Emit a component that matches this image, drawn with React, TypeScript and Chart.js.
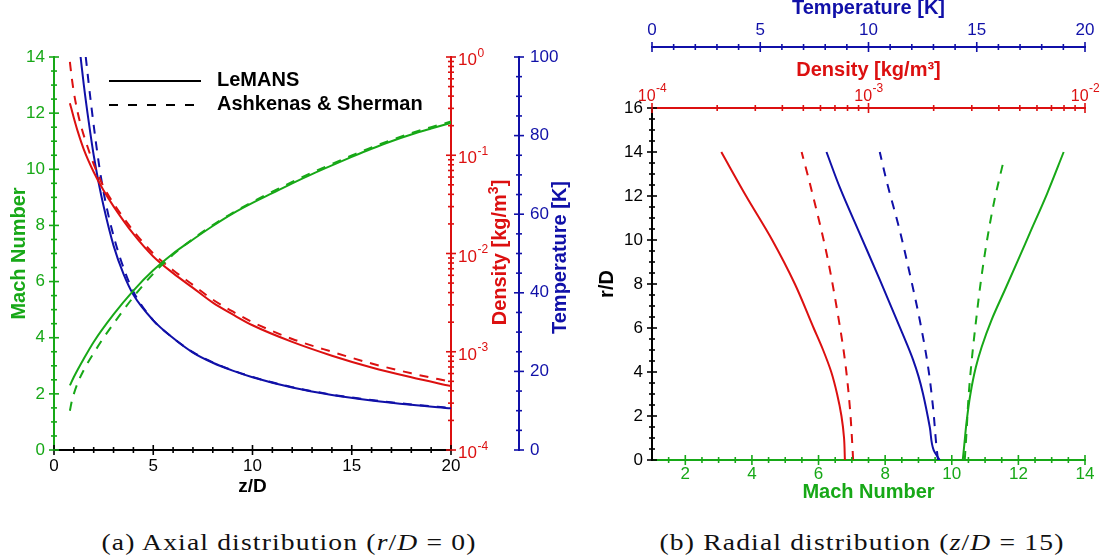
import React, { useEffect, useRef } from 'react';
import { Chart, registerables } from 'chart.js';

Chart.register(...registerables);

const FONT = "'Liberation Sans', Arial, Helvetica, sans-serif";
const GREEN = '#17A817';
const RED = '#DC1010';
const BLUE = '#1010A8';
const DASH = [9, 8];

const LEGEND_LABELS = ['LeMANS', 'Ashkenas & Sherman'];

// ---------- Panel (a): axial distribution, r/D = 0 ----------
const A_Z_TICKS = [0, 5, 10, 15, 20];
const A_MACH_TICKS = [0, 2, 4, 6, 8, 10, 12, 14];
const A_T_TICKS = [0, 20, 40, 60, 80, 100];
const A_RHO_TICKS = [1e-4, 1e-3, 1e-2, 1e-1, 1];
const A_RHO_EXP = ['-4', '-3', '-2', '-1', '0'];

const A_Z_MACH_LEMANS = [0.8, 1, 1.5, 2, 3, 4, 5, 6, 7, 8, 9, 10, 11, 12, 13, 14, 15, 16, 17, 18, 19, 20];
const A_MACH_LEMANS = [2.3, 2.6, 3.25, 3.85, 4.83, 5.68, 6.4, 7.0, 7.5, 7.98, 8.42, 8.8, 9.15, 9.5, 9.83, 10.14, 10.44, 10.73, 11.0, 11.24, 11.45, 11.65];
const A_Z_MACH_AS = [0.8, 0.9, 1, 1.2, 1.5, 2, 2.5, 3, 4, 5, 6, 7, 8, 9, 10, 11, 12, 13, 14, 15, 16, 17, 18, 19, 20];
const A_MACH_AS = [1.4, 1.75, 2.0, 2.4, 2.85, 3.45, 4.0, 4.5, 5.45, 6.28, 6.96, 7.52, 8.01, 8.45, 8.84, 9.2, 9.55, 9.88, 10.19, 10.49, 10.78, 11.04, 11.29, 11.5, 11.7];

const A_Z_RHO_LEMANS = [0.8, 1, 1.2, 1.5, 2, 2.5, 3, 4, 5, 6, 7, 8, 9, 10, 12, 14, 16, 18, 20];
const A_RHO_LEMANS = [0.339, 0.24, 0.174, 0.115, 0.0676, 0.0437, 0.0302, 0.0158, 0.00933, 0.00631, 0.00447, 0.00316, 0.0024, 0.00186, 0.00126, 0.000912, 0.000692, 0.00055, 0.000447];
const A_Z_RHO_AS = [0.8, 0.9, 1, 1.2, 1.4, 1.6, 2, 2.5, 3, 4, 5, 6, 7, 8, 9, 10, 12, 14, 16, 18, 20];
const A_RHO_AS = [0.891, 0.603, 0.437, 0.269, 0.186, 0.138, 0.0813, 0.0479, 0.0324, 0.017, 0.01, 0.00676, 0.00479, 0.00339, 0.00257, 0.002, 0.00135, 0.001, 0.000759, 0.000603, 0.000495];

const A_Z_T_LEMANS = [1.34, 1.5, 1.75, 2, 2.25, 2.5, 3, 3.5, 4, 5, 6, 7, 8, 9, 10, 12, 14, 16, 18, 20];
const A_T_LEMANS = [100, 93, 83.5, 75, 68, 62, 52, 44.8, 39.5, 33, 28.5, 24.8, 22.2, 20.2, 18.5, 15.9, 14.0, 12.6, 11.5, 10.6];
const A_Z_T_AS = [1.6, 1.88, 2.3, 2.6, 3.06, 3.6, 4, 5, 6, 7, 8, 10, 12, 14, 16, 18, 20];
const A_T_AS = [100, 87.5, 71.5, 63, 53.4, 45, 40.3, 33, 28.5, 24.9, 22.3, 18.6, 16.0, 14.1, 12.7, 11.6, 10.7];

// ---------- Panel (b): radial distribution, z/D = 15 ----------
const B_RD_TICKS = [0, 2, 4, 6, 8, 10, 12, 14, 16];
const B_MACH_TICKS = [2, 4, 6, 8, 10, 12, 14];
const B_T_TICKS = [0, 5, 10, 15, 20];
const B_RHO_TICKS = [1e-4, 1e-3, 1e-2];
const B_RHO_EXP = ['-4', '-3', '-2'];

const B_R_MACH_LEMANS = [0, 0.6, 1.8, 3.0, 4.2, 5.15, 6.35, 7.75, 8.95, 10.3, 12.1, 14];
const B_MACH_LEMANS = [10.33, 10.37, 10.45, 10.56, 10.72, 10.9, 11.19, 11.6, 11.95, 12.34, 12.86, 13.36];
const B_R_MACH_AS = [0, 1.2, 3.0, 4.55, 6.35, 8.2, 10, 11.8, 13.56];
const B_MACH_AS = [10.39, 10.44, 10.51, 10.6, 10.73, 10.88, 11.06, 11.28, 11.55];

const B_R_T_LEMANS = [0, 0.45, 1.5, 3.0, 3.8, 4.55, 5.3, 6.05, 8.2, 10.3, 12.4, 14];
const B_T_LEMANS = [13.29, 13.01, 12.83, 12.52, 12.31, 12.06, 11.76, 11.44, 10.52, 9.59, 8.67, 8.06];
const B_R_T_AS = [0, 0.6, 2.4, 4.25, 6.35, 8.5, 10.45, 12.7, 14];
const B_T_AS = [13.21, 13.14, 12.98, 12.75, 12.37, 11.9, 11.44, 10.83, 10.52];

const B_R_RHO_LEMANS = [0, 1, 2, 3, 4, 5, 6, 8, 10, 12, 14];
const B_RHO_LEMANS = [7.78e-4, 7.71e-4, 7.5e-4, 7.16e-4, 6.73e-4, 6.17e-4, 5.58e-4, 4.57e-4, 3.59e-4, 2.72e-4, 2.09e-4];
const B_R_RHO_AS = [0, 0.6, 2.4, 4.55, 7.0, 9.4, 12.7, 14];
const B_RHO_AS = [8.49e-4, 8.43e-4, 8.2e-4, 7.78e-4, 7.11e-4, 6.4e-4, 5.32e-4, 4.91e-4];

// ---------- helpers ----------
const pts = (xs: number[], ys: number[]) => xs.map((x, i) => ({ x, y: ys[i] }));

function ds(label: string, data: any[], color: string, dashed: boolean, xAxisID: string, yAxisID: string) {
  return {
    label,
    data,
    borderColor: color,
    backgroundColor: color,
    borderWidth: 2,
    borderDash: dashed ? DASH : [],
    pointRadius: 0,
    cubicInterpolationMode: 'monotone',
    fill: false,
    xAxisID,
    yAxisID,
  };
}

function stepRange(a: number, b: number, step: number, skip: number[]) {
  const out: number[] = [];
  for (let v = a; v <= b + 1e-9; v += step) {
    const r = Math.round(v * 1000) / 1000;
    if (!skip.some((s) => Math.abs(s - r) < 1e-9)) out.push(r);
  }
  return out;
}
function logMinor(lo: number, hi: number) {
  const out: number[] = [];
  for (let d = lo; d < hi * 0.999; d *= 10) for (let m = 2; m <= 9; m++) out.push(m * d);
  return out;
}

const fixed = (n: number, dim: 'width' | 'height') => (s: any) => { s[dim] = n; };
const setTicks = (arr: number[]) => (s: any) => { s.ticks = arr.map((v) => ({ value: v })); };
const tickFont = { family: FONT, size: 17, lineHeight: 1 };
const titleFont = { family: FONT, size: 20, weight: 'bold' as const, lineHeight: 1 };
const noGrid = { display: false, drawTicks: false };

type TickSpec = { id: string; major: number[]; minor: number[]; color: string };

const crossTicks = (specs: TickSpec[]) => ({
  id: 'crossTicks',
  afterDraw(chart: any) {
    const ctx = chart.ctx;
    ctx.save();
    ctx.lineWidth = 1.6;
    for (const s of specs) {
      const sc = chart.scales[s.id];
      ctx.strokeStyle = s.color;
      const draw = (v: number, len: number) => {
        const p = sc.getPixelForValue(v);
        ctx.beginPath();
        if (sc.isHorizontal()) {
          const y = sc.options.position === 'bottom' ? sc.top : sc.bottom;
          ctx.moveTo(p, y - len);
          ctx.lineTo(p, y + len);
        } else {
          const x = sc.options.position === 'left' ? sc.right : sc.left;
          ctx.moveTo(x - len, p);
          ctx.lineTo(x + len, p);
        }
        ctx.stroke();
      };
      s.major.forEach((v) => draw(v, 5));
      s.minor.forEach((v) => draw(v, 3));
    }
    ctx.restore();
  },
});

const logLabels = (id: string, ticks: number[], exps: string[], color: string, side: 'right' | 'top', size: number) => ({
  id: 'logLabels_' + id,
  afterDraw(chart: any) {
    const sc = chart.scales[id];
    const ctx = chart.ctx;
    ctx.save();
    ctx.fillStyle = color;
    ctx.textBaseline = 'alphabetic';
    ctx.textAlign = 'left';
    ticks.forEach((v, i) => {
      const p = sc.getPixelForValue(v);
      ctx.font = `${size}px ${FONT}`;
      const w1 = ctx.measureText('10').width;
      ctx.font = `12px ${FONT}`;
      const w2 = ctx.measureText(exps[i]).width;
      let x0: number, yb: number, ys: number;
      if (side === 'right') {
        x0 = sc.left + 7;
        yb = p + 8;
        ys = p - 0.5;
      } else {
        x0 = p - (w1 + w2) / 2;
        yb = sc.bottom - 7.5;
        ys = sc.bottom - 16;
      }
      ctx.font = `${size}px ${FONT}`;
      ctx.fillText('10', x0, yb);
      ctx.font = `12px ${FONT}`;
      ctx.fillText(exps[i], x0 + w1 + 0.5, ys);
    });
    ctx.restore();
  },
});

// draws a bold title rotated to read bottom-to-top, with an optional superscript part
const drawRotated = (ctx: any, parts: [string, boolean][], x: number, y: number, color: string) => {
  ctx.save();
  ctx.translate(x, y);
  ctx.rotate(-Math.PI / 2);
  ctx.fillStyle = color;
  ctx.textAlign = 'left';
  ctx.textBaseline = 'alphabetic';
  let total = 0;
  const widths = parts.map(([t, sup]) => {
    ctx.font = `bold ${sup ? 14 : 20}px ${FONT}`;
    const w = ctx.measureText(t).width;
    total += w;
    return w;
  });
  let cx = -total / 2;
  parts.forEach(([t, sup], i) => {
    ctx.font = `bold ${sup ? 14 : 20}px ${FONT}`;
    ctx.fillText(t, cx, sup ? -1 : 7);
    cx += widths[i];
  });
  ctx.restore();
};

const leftDecor = {
  id: 'leftDecor',
  afterDraw(chart: any) {
    const ctx = chart.ctx;
    const a = chart.chartArea;
    ctx.save();
    // legend
    const x1 = a.left + 55;
    const x2 = a.left + 147;
    const y1 = a.top + 24;
    const y2 = a.top + 48;
    ctx.strokeStyle = '#000';
    ctx.lineWidth = 2;
    ctx.beginPath();
    ctx.moveTo(x1, y1);
    ctx.lineTo(x2, y1);
    ctx.stroke();
    ctx.setLineDash([9, 10]);
    ctx.beginPath();
    ctx.moveTo(x1, y2);
    ctx.lineTo(x2, y2);
    ctx.stroke();
    ctx.setLineDash([]);
    ctx.fillStyle = '#000';
    ctx.font = `bold 20px ${FONT}`;
    ctx.textAlign = 'left';
    ctx.textBaseline = 'middle';
    ctx.fillText(LEGEND_LABELS[0], x2 + 16, y1 - 1);
    ctx.fillText(LEGEND_LABELS[1], x2 + 16, y2 - 0.5);
    ctx.restore();
    // right-side rotated titles
    const dens = chart.scales.dens;
    const temp = chart.scales.temp;
    drawRotated(ctx, [['Density [kg/m', false], ['3', true], [']', false]], dens.left + 48, (a.top + a.bottom) / 2 - 1, RED);
    drawRotated(ctx, [['Temperature [K]', false]], temp.left + 40, (a.top + a.bottom) / 2 + 4, BLUE);
  },
};

// ---------- chart configs ----------
function leftConfig(): any {
  return {
    type: 'line',
    data: {
      datasets: [
        ds('Mach LeMANS', pts(A_Z_MACH_LEMANS, A_MACH_LEMANS), GREEN, false, 'x', 'y'),
        ds('Mach Ashkenas & Sherman', pts(A_Z_MACH_AS, A_MACH_AS), GREEN, true, 'x', 'y'),
        ds('Density LeMANS', pts(A_Z_RHO_LEMANS, A_RHO_LEMANS), RED, false, 'x', 'dens'),
        ds('Density Ashkenas & Sherman', pts(A_Z_RHO_AS, A_RHO_AS), RED, true, 'x', 'dens'),
        ds('Temperature LeMANS', pts(A_Z_T_LEMANS, A_T_LEMANS), BLUE, false, 'x', 'temp'),
        ds('Temperature Ashkenas & Sherman', pts(A_Z_T_AS, A_T_AS), BLUE, true, 'x', 'temp'),
      ],
    },
    options: {
      responsive: false,
      maintainAspectRatio: false,
      animation: false,
      layout: { padding: { top: 57, left: 0, right: 0, bottom: 0 } },
      plugins: { legend: { display: false }, tooltip: { enabled: false } },
      scales: {
        x: {
          type: 'linear', position: 'bottom', min: 0, max: 20,
          afterBuildTicks: setTicks(A_Z_TICKS), afterFit: fixed(50, 'height'),
          grid: noGrid, border: { display: true, color: '#000', width: 2 },
          ticks: { color: '#000', font: tickFont, padding: 7.5, maxRotation: 0, autoSkip: false },
          title: { display: true, text: 'z/D', color: '#000', font: { ...titleFont, size: 19 }, padding: { top: 0, bottom: 4 } },
        },
        y: {
          type: 'linear', position: 'left', min: 0, max: 14,
          afterBuildTicks: setTicks(A_MACH_TICKS), afterFit: fixed(54, 'width'),
          grid: noGrid, border: { display: true, color: GREEN, width: 2 },
          ticks: { color: GREEN, font: tickFont, padding: 9, autoSkip: false },
          title: { display: true, text: 'Mach Number', color: GREEN, font: titleFont, padding: { top: 9.5, bottom: 0 } },
        },
        dens: {
          type: 'logarithmic', position: 'right', weight: 0, min: 1e-4, max: 1,
          afterFit: fixed(68, 'width'),
          grid: noGrid, border: { display: true, color: RED, width: 2 },
          ticks: { display: false },
        },
        temp: {
          type: 'linear', position: 'right', weight: 1, min: 0, max: 100,
          afterBuildTicks: setTicks(A_T_TICKS), afterFit: fixed(56, 'width'),
          grid: noGrid, border: { display: true, color: BLUE, width: 2 },
          ticks: { color: BLUE, font: tickFont, padding: 11, autoSkip: false },
        },
      },
    },
    plugins: [
      crossTicks([
        { id: 'x', major: A_Z_TICKS, minor: stepRange(0, 20, 1, A_Z_TICKS), color: '#000' },
        { id: 'y', major: A_MACH_TICKS, minor: stepRange(0, 14, 0.5, A_MACH_TICKS), color: GREEN },
        { id: 'dens', major: A_RHO_TICKS, minor: logMinor(1e-4, 1), color: RED },
        { id: 'temp', major: A_T_TICKS, minor: stepRange(0, 100, 5, A_T_TICKS), color: BLUE },
      ]),
      logLabels('dens', A_RHO_TICKS, A_RHO_EXP, RED, 'right', 17),
      leftDecor,
    ],
  };
}

function rightConfig(): any {
  return {
    type: 'line',
    data: {
      datasets: [
        ds('Density LeMANS', pts(B_RHO_LEMANS, B_R_RHO_LEMANS), RED, false, 'dens', 'y'),
        ds('Density Ashkenas & Sherman', pts(B_RHO_AS, B_R_RHO_AS), RED, true, 'dens', 'y'),
        ds('Temperature LeMANS', pts(B_T_LEMANS, B_R_T_LEMANS), BLUE, false, 'temp', 'y'),
        ds('Temperature Ashkenas & Sherman', pts(B_T_AS, B_R_T_AS), BLUE, true, 'temp', 'y'),
        ds('Mach LeMANS', pts(B_MACH_LEMANS, B_R_MACH_LEMANS), GREEN, false, 'x', 'y'),
        ds('Mach Ashkenas & Sherman', pts(B_MACH_AS, B_R_MACH_AS), GREEN, true, 'x', 'y'),
      ],
    },
    options: {
      indexAxis: 'y',
      responsive: false,
      maintainAspectRatio: false,
      animation: false,
      layout: { padding: { top: 0, left: 0, right: 19, bottom: 0 } },
      plugins: { legend: { display: false }, tooltip: { enabled: false } },
      scales: {
        x: {
          type: 'linear', position: 'bottom', min: 1, max: 14,
          afterBuildTicks: setTicks(B_MACH_TICKS), afterFit: fixed(50, 'height'),
          grid: noGrid, border: { display: true, color: GREEN, width: 2 },
          ticks: { color: GREEN, font: tickFont, padding: 5.5, maxRotation: 0, autoSkip: false },
          title: { display: true, text: 'Mach Number', color: GREEN, font: titleFont, padding: { top: 0, bottom: 8 } },
        },
        y: {
          type: 'linear', position: 'left', min: 0, max: 16,
          afterBuildTicks: setTicks(B_RD_TICKS), afterFit: fixed(77, 'width'),
          grid: noGrid, border: { display: true, color: '#000', width: 2 },
          ticks: { color: '#000', font: tickFont, padding: 9, autoSkip: false },
          title: { display: true, text: 'r/D', color: '#000', font: titleFont, padding: { top: 22, bottom: 0 } },
        },
        dens: {
          type: 'logarithmic', position: 'top', weight: 0, min: 1e-4, max: 1e-2,
          afterFit: fixed(61, 'height'),
          grid: noGrid, border: { display: true, color: RED, width: 2 },
          ticks: { display: false },
          title: { display: true, text: 'Density [kg/m³]', color: RED, font: titleFont, padding: { top: 13.5, bottom: 0 } },
        },
        temp: {
          type: 'linear', position: 'top', weight: 1, min: 0, max: 20,
          afterBuildTicks: setTicks(B_T_TICKS), afterFit: fixed(47, 'height'),
          grid: noGrid, border: { display: true, color: BLUE, width: 2 },
          ticks: { color: BLUE, font: tickFont, padding: 7.7, maxRotation: 0, autoSkip: false },
          title: { display: true, text: 'Temperature [K]', color: BLUE, font: titleFont, padding: { top: -1.7, bottom: 0 } },
        },
      },
    },
    plugins: [
      crossTicks([
        { id: 'x', major: B_MACH_TICKS, minor: stepRange(1.5, 14, 0.5, B_MACH_TICKS), color: GREEN },
        { id: 'y', major: B_RD_TICKS, minor: stepRange(0, 16, 0.5, B_RD_TICKS), color: '#000' },
        { id: 'dens', major: B_RHO_TICKS, minor: logMinor(1e-4, 1e-2), color: RED },
        { id: 'temp', major: B_T_TICKS, minor: stepRange(0, 20, 1, B_T_TICKS), color: BLUE },
      ]),
      logLabels('dens', B_RHO_TICKS, B_RHO_EXP, RED, 'top', 16),
    ],
  };
}

function ChartCanvas({ makeConfig, left, top, width, height }: { makeConfig: () => any; left: number; top: number; width: number; height: number }) {
  const ref = useRef<HTMLCanvasElement>(null);
  useEffect(() => {
    const chart = new Chart(ref.current as HTMLCanvasElement, makeConfig());
    return () => chart.destroy();
  }, []);
  return (
    <canvas
      ref={ref}
      width={width}
      height={height}
      style={{ position: 'absolute', left, top, width, height }}
    />
  );
}

const captionStyle: React.CSSProperties = {
  position: 'absolute',
  top: 530,
  whiteSpace: 'nowrap',
  fontFamily: "'Liberation Serif', 'Times New Roman', serif",
  fontSize: 24,
  lineHeight: '24px',
  color: '#111',
  letterSpacing: '1px',
  transformOrigin: 'center',
};

export default function App() {
  return (
    <div style={{ position: 'fixed', left: 0, top: 0, width: 1104, height: 556, background: '#fff', overflow: 'hidden' }}>
      <ChartCanvas makeConfig={leftConfig} left={0} top={0} width={575} height={500} />
      <ChartCanvas makeConfig={rightConfig} left={575} top={0} width={529} height={510} />
      <div style={{ ...captionStyle, left: 289, transform: 'translateX(-50%) scaleX(1.15)' }}>
        (a) Axial distribution (<i>r</i>/<i>D</i> = 0)
      </div>
      <div style={{ ...captionStyle, left: 862, transform: 'translateX(-50%) scaleX(1.15)' }}>
        (b) Radial distribution (<i>z</i>/<i>D</i> = 15)
      </div>
    </div>
  );
}
